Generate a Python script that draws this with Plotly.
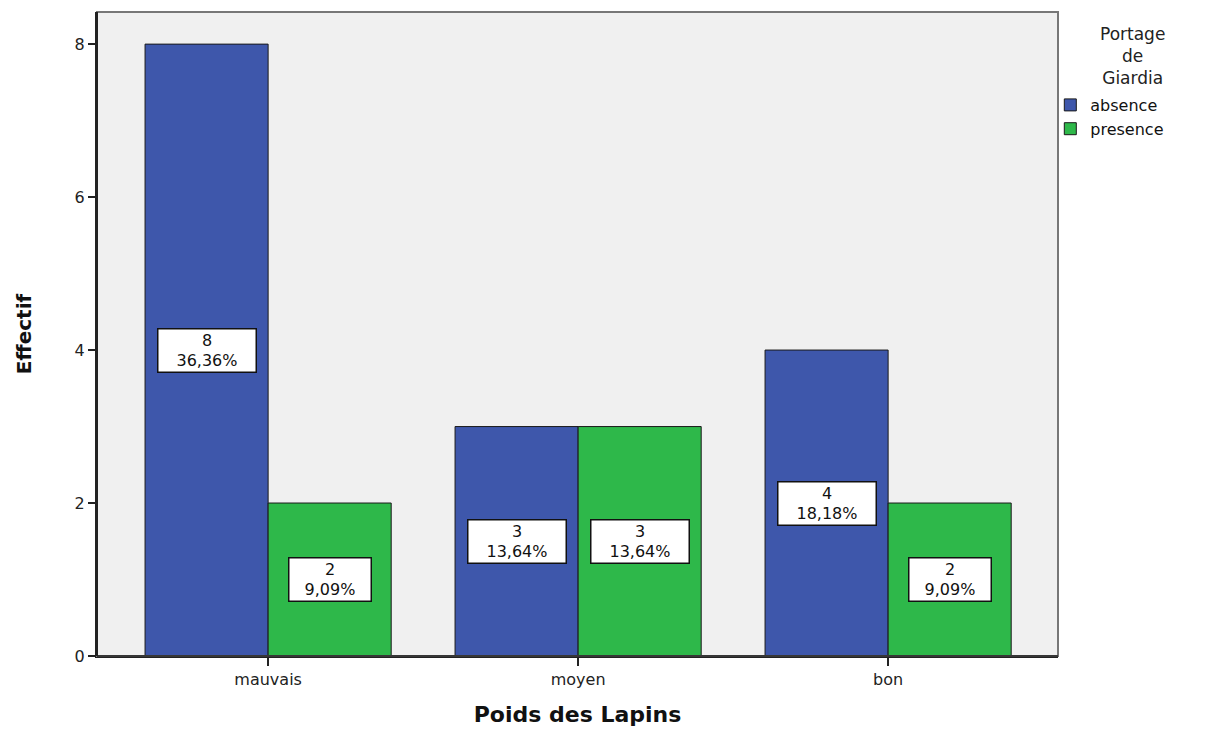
import plotly.graph_objects as go

categories = ["mauvais", "moyen", "bon"]
absence = [8, 3, 4]
presence = [2, 3, 2]
pct_absence = ["36,36%", "13,64%", "18,18%"]
pct_presence = ["9,09%", "13,64%", "9,09%"]
y_ticks = [0, 2, 4, 6, 8]
legend_title = "Portage<br>de<br>Giardia"

BLUE = "#3E57AB"
GREEN = "#2EB84A"
FONT = "DejaVu Sans, Liberation Sans, Arial, sans-serif"

fig = go.Figure()
fig.add_trace(go.Bar(x=categories, y=absence, name="absence", offsetgroup="a",
                     marker=dict(color=BLUE, line=dict(color="#1a1a1a", width=1))))
fig.add_trace(go.Bar(x=categories, y=presence, name="presence", offsetgroup="p",
                     marker=dict(color=GREEN, line=dict(color="#1a1a1a", width=1))))

bw = 0.397
for i, c in enumerate(categories):
    for val, pct, off in [(absence[i], pct_absence[i], -bw / 2), (presence[i], pct_presence[i], bw / 2)]:
        fig.add_annotation(x=i + off, y=val / 2, xref="x", yref="y",
                           text=f"{val}<br>{pct}", showarrow=False,
                           font=dict(family=FONT, size=16, color="#111"),
                           bgcolor="white", bordercolor="#111", borderwidth=1.5,
                           borderpad=0, width=16 * len(pct) + 1, height=42,
                           align="center", valign="middle")

fig.add_annotation(x=1.078, y=0.985, xref="paper", yref="paper", xanchor="center", yanchor="top",
                   text=legend_title, showarrow=False, align="center",
                   font=dict(family=FONT, size=17, color="#222"))

fig.update_layout(
    width=1206, height=721,
    margin=dict(l=89, r=156, t=4, b=73),
    paper_bgcolor="white", plot_bgcolor="#F0F0F0",
    barmode="group", bargap=0.206, bargroupgap=0,
    font=dict(family=FONT, size=16, color="#222"),
    showlegend=True,
    legend=dict(x=0.992, y=0.882, xanchor="left", yanchor="top",
                font=dict(size=16, family=FONT, color="#111"), tracegroupgap=0,
                itemwidth=30, bgcolor="rgba(0,0,0,0)"),
    xaxis=dict(type="category", range=[-0.552, 2.548], showgrid=False,
               ticks="outside", ticklen=8, tickcolor="#222", tickwidth=2,
               showline=True, linecolor="#222", linewidth=1.5,
               tickfont=dict(size=16, color="#222"),
               title=dict(text="<b>Poids des Lapins</b>", font=dict(size=22, color="#111"), standoff=19)),
    yaxis=dict(range=[0, 8.42], tickvals=y_ticks, showgrid=False, zeroline=False,
               ticks="outside", ticklen=7, tickcolor="#222", tickwidth=2,
               showline=True, linecolor="#222", linewidth=2,
               tickfont=dict(size=16, color="#222"),
               title=dict(text="<b>Effectif</b>", font=dict(size=20, color="#111"), standoff=38)),
)
fig.add_shape(type="rect", xref="paper", yref="paper", x0=0, x1=1, y0=0, y1=1,
              line=dict(color="#777", width=2), layer="above")
fig.add_shape(type="line", xref="paper", yref="paper", x0=0, x1=0, y0=0, y1=1,
              line=dict(color="#222", width=2), layer="above")
fig.add_shape(type="line", xref="paper", yref="paper", x0=0, x1=1, y0=0, y1=0,
              line=dict(color="#222", width=1.5), layer="above")

fig.write_html("out.html")
